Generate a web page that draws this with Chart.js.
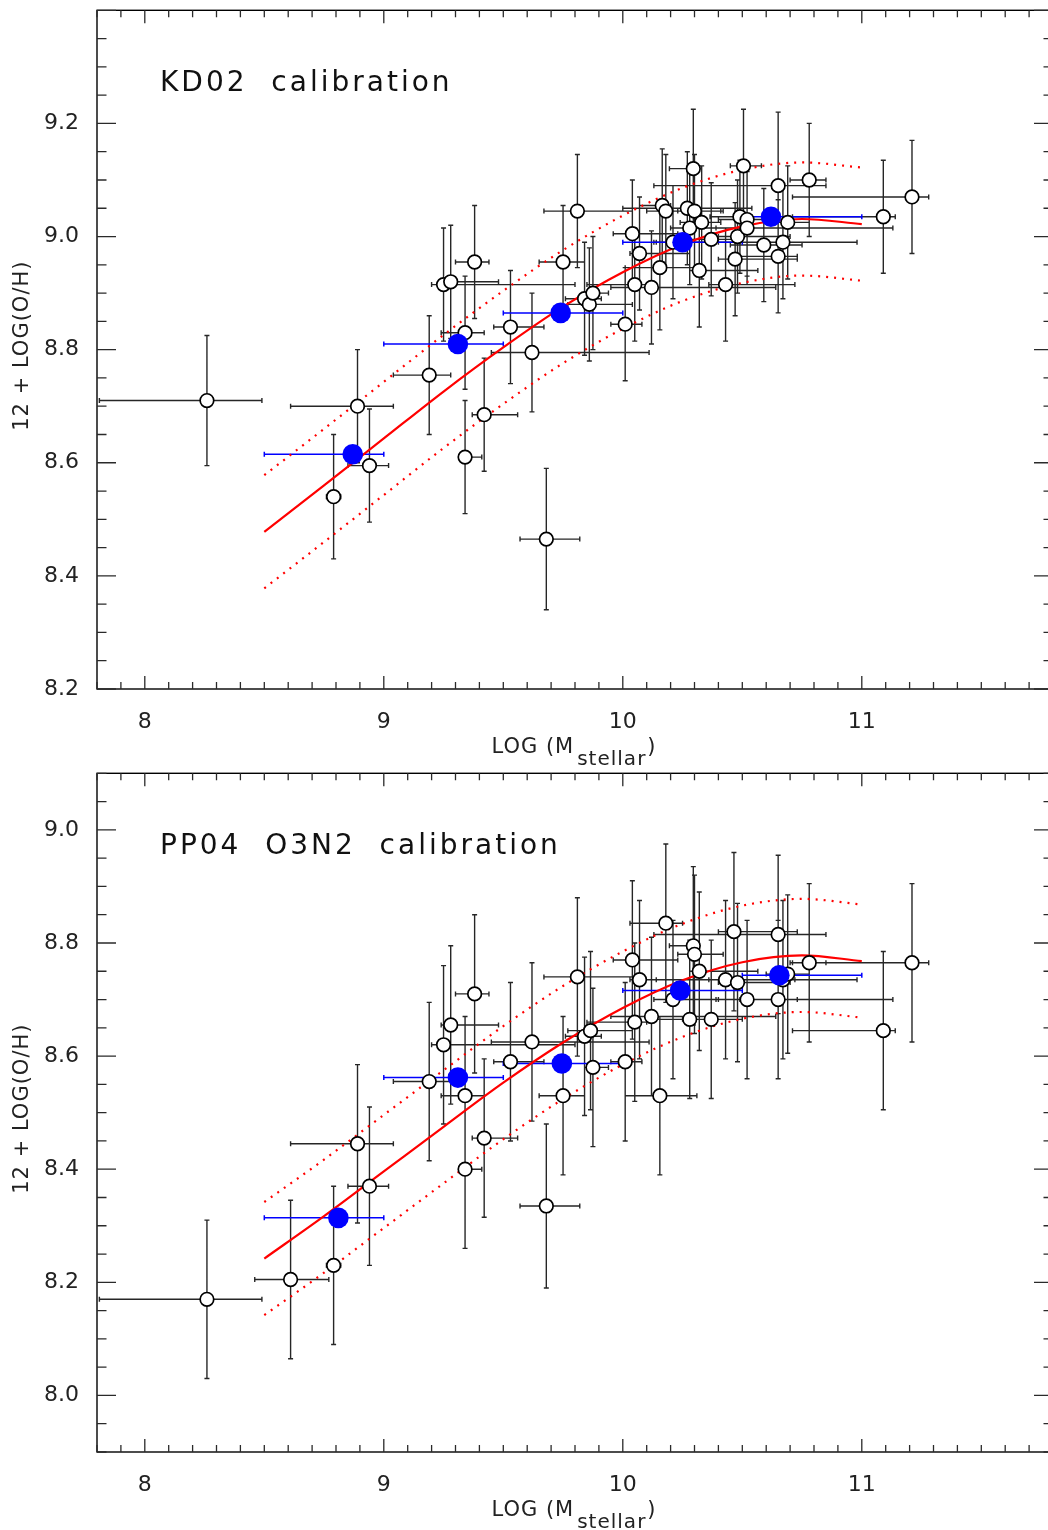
<!DOCTYPE html>
<html><head><meta charset="utf-8">
<script src="https://cdn.jsdelivr.net/npm/chart.js@4.4.1/dist/chart.umd.min.js"></script>
<style>
html,body{margin:0;padding:0;overflow:hidden;background:#fff;width:1048px;height:1530px;}
.wrap{position:absolute;left:0;width:1060px;height:765px;}
#w1{top:0;} #w2{top:763px;}
canvas{display:block;width:1060px;height:765px;}
</style></head><body>
<div class="wrap" id="w1"><canvas id="c1" width="1060" height="765"></canvas></div>
<div class="wrap" id="w2"><canvas id="c2" width="1060" height="765"></canvas></div>
<script>
// ---------------- DATA ----------------
const xTicks = [8, 9, 10, 11];
const kdYTicks = [8.2, 8.4, 8.6, 8.8, 9.0, 9.2];
const ppYTicks = [8.0, 8.2, 8.4, 8.6, 8.8, 9.0];
const binEdges = [8.5, 9.0, 9.5, 10.0, 10.5, 11.0];

// KD02 panel: individual galaxies
const kdMass   = [8.26,8.79,8.89,8.94,9.19,9.25,9.28,9.34,9.34,9.38,9.42,9.53,9.62,9.68,9.75,9.81,9.84,9.86,9.875,10.01,10.04,10.05,10.07,10.12,10.155,10.165,10.18,10.21,10.27,10.28,10.295,10.30,10.32,10.33,10.37,10.43,10.47,10.48,10.49,10.505,10.52,10.52,10.59,10.65,10.65,10.67,10.69,10.78,11.09,11.21];
const kdMassLo = [7.81,8.76,8.61,8.85,9.04,9.20,9.24,9.24,9.32,9.30,9.37,9.46,9.45,9.57,9.65,9.67,9.76,9.77,9.84,9.95,9.96,9.85,10.03,9.95,10.01,10.07,10.10,10.13,10.00,10.20,10.195,10.23,10.28,10.24,10.25,10.36,10.40,10.40,10.365,10.45,10.40,10.39,10.45,10.13,10.49,10.14,10.60,10.70,10.71,10.71];
const kdMassHi = [8.49,8.82,9.04,9.02,9.28,9.80,9.48,9.42,9.41,9.44,9.56,9.67,10.11,9.82,9.84,10.04,9.91,10.04,9.94,10.08,10.23,10.10,10.28,10.64,10.30,10.20,10.41,10.40,10.54,10.50,10.32,10.42,10.565,10.41,10.50,10.72,10.73,10.70,10.54,10.58,10.60,11.13,10.75,10.85,10.73,10.98,10.78,10.85,11.14,11.28];
const kdOH     = [8.71,8.54,8.70,8.595,8.755,8.915,8.92,8.83,8.61,8.955,8.685,8.84,8.795,8.465,8.955,9.045,8.89,8.88,8.90,8.845,9.005,8.915,8.97,8.91,8.945,9.055,9.045,8.99,9.05,9.015,9.12,9.045,8.94,9.025,8.995,8.915,8.96,9.00,9.035,9.125,9.03,9.015,8.985,9.09,8.965,8.99,9.025,9.10,9.035,9.07];
const kdOHErr  = [0.115,0.11,0.10,0.10,0.105,0.10,0.10,0.10,0.10,0.10,0.10,0.10,0.105,0.125,0.10,0.10,0.10,0.10,0.10,0.10,0.095,0.10,0.10,0.10,0.11,0.10,0.10,0.10,0.10,0.10,0.105,0.10,0.10,0.10,0.10,0.10,0.10,0.10,0.10,0.10,0.10,0.10,0.10,0.13,0.10,0.10,0.10,0.10,0.10,0.10];
// KD02 panel: binned medians (blue)
const kdBinMass = [8.87, 9.31, 9.74, 10.25, 10.62];
const kdBinOH   = [8.615, 8.81, 8.865, 8.99, 9.035];
// KD02 panel: fit curve (solid) and scatter envelope (dotted)
const fitMass  = [8.5, 8.75, 9.0, 9.25, 9.5, 9.75, 10.0, 10.25, 10.5, 10.75, 11.0];
const kdFit    = [8.478, 8.560, 8.643, 8.726, 8.804, 8.876, 8.937, 8.986, 9.018, 9.031, 9.022];
const kdFitUp  = [8.578, 8.660, 8.743, 8.826, 8.904, 8.976, 9.037, 9.086, 9.118, 9.131, 9.122];
const kdFitLow = [8.378, 8.460, 8.543, 8.626, 8.704, 8.776, 8.837, 8.886, 8.918, 8.931, 8.922];

// PP04 O3N2 panel: individual galaxies
const ppMass   = [8.26,8.61,8.79,8.89,8.94,9.19,9.25,9.28,9.34,9.34,9.38,9.42,9.53,9.62,9.68,9.75,9.81,9.84,9.865,9.875,10.01,10.04,10.05,10.07,10.12,10.155,10.18,10.21,10.28,10.295,10.30,10.32,10.37,10.43,10.465,10.48,10.52,10.65,10.65,10.67,10.69,10.78,11.09,11.21];
const ppMassLo = [7.81,8.46,8.76,8.61,8.85,9.04,9.20,9.24,9.24,9.32,9.30,9.37,9.46,9.45,9.57,9.65,9.67,9.76,9.77,9.84,9.95,9.96,9.85,10.03,9.95,10.01,10.03,10.13,10.11,10.195,10.23,10.28,10.25,10.36,10.40,10.40,10.39,10.13,10.49,10.14,10.60,10.70,10.71,10.71];
const ppMassHi = [8.49,8.77,8.82,9.04,9.02,9.28,9.80,9.48,9.42,9.41,9.44,9.56,9.67,10.11,9.82,9.84,10.04,9.91,10.04,9.94,10.08,10.23,10.10,10.28,10.64,10.31,10.25,10.40,10.39,10.32,10.42,10.565,10.50,10.72,10.73,10.70,11.13,10.85,10.73,10.98,10.78,10.85,11.14,11.28];
const ppOH     = [8.17,8.205,8.23,8.445,8.37,8.555,8.62,8.655,8.53,8.40,8.71,8.455,8.59,8.625,8.335,8.53,8.74,8.635,8.645,8.58,8.59,8.77,8.66,8.735,8.67,8.53,8.835,8.70,8.665,8.795,8.78,8.75,8.665,8.735,8.82,8.73,8.70,8.815,8.70,8.735,8.745,8.765,8.645,8.765];
const ppOHErr  = [0.14,0.14,0.14,0.14,0.14,0.14,0.14,0.14,0.14,0.14,0.14,0.14,0.14,0.14,0.145,0.14,0.14,0.14,0.14,0.14,0.14,0.14,0.14,0.14,0.14,0.14,0.14,0.14,0.14,0.14,0.14,0.14,0.14,0.14,0.14,0.14,0.14,0.14,0.14,0.14,0.14,0.14,0.14,0.14];
// PP04 panel: binned medians (blue)
const ppBinMass = [8.81, 9.31, 9.745, 10.24, 10.655];
const ppBinOH   = [8.314, 8.562, 8.587, 8.716, 8.743];
// PP04 panel: fit curve and envelope
const ppFit    = [8.242, 8.317, 8.396, 8.475, 8.553, 8.624, 8.685, 8.734, 8.766, 8.778, 8.768];
const ppFitUp  = [8.342, 8.417, 8.496, 8.575, 8.653, 8.724, 8.785, 8.834, 8.866, 8.878, 8.868];
const ppFitLow = [8.142, 8.217, 8.296, 8.375, 8.453, 8.524, 8.585, 8.634, 8.666, 8.678, 8.668];

// ---------------- DRAWING ----------------
const FONT = '"DejaVu Sans", "Liberation Sans", sans-serif';
const TXT = '#222';
const PLOT_RIGHT = 1053;
const pts = (xs, ys) => xs.map((v, i) => ({x: v, y: ys[i]}));
const noPad = s => { s.paddingTop = 0; s.paddingBottom = 0; s.paddingLeft = 0; s.paddingRight = 0; };

function makePanel(id, P) {
  const areaPlugin = {
    id: 'area',
    afterLayout(chart) {
      const a = chart.chartArea, x = chart.scales.x;
      a.right = PLOT_RIGHT; a.width = a.right - a.left;
      x.right = PLOT_RIGHT; x.width = x.right - x.left;
      x.configure();
    }
  };
  const errPlugin = {
    id: 'errbars',
    beforeDatasetsDraw(chart) {
      const {ctx, chartArea: a, scales: {x, y}} = chart;
      ctx.save();
      ctx.beginPath(); ctx.rect(a.left, a.top, a.right - a.left, a.bottom - a.top); ctx.clip();
      ctx.strokeStyle = '#262626'; ctx.lineWidth = 1.4;
      const cap = 2.5;
      ctx.beginPath();
      for (let i = 0; i < P.mass.length; i++) {
        const px = x.getPixelForValue(P.mass[i]), py = y.getPixelForValue(P.oh[i]);
        const x0 = x.getPixelForValue(P.massLo[i]), x1 = x.getPixelForValue(P.massHi[i]);
        const y0 = y.getPixelForValue(P.oh[i] - P.ohErr[i]), y1 = y.getPixelForValue(P.oh[i] + P.ohErr[i]);
        ctx.moveTo(x0, py); ctx.lineTo(x1, py);
        ctx.moveTo(x0, py - cap); ctx.lineTo(x0, py + cap);
        ctx.moveTo(x1, py - cap); ctx.lineTo(x1, py + cap);
        ctx.moveTo(px, y0); ctx.lineTo(px, y1);
        ctx.moveTo(px - cap, y0); ctx.lineTo(px + cap, y0);
        ctx.moveTo(px - cap, y1); ctx.lineTo(px + cap, y1);
      }
      ctx.stroke();
      ctx.strokeStyle = '#0000ff'; ctx.lineWidth = 1.5;
      ctx.beginPath();
      for (let i = 0; i < P.binMass.length; i++) {
        const py = y.getPixelForValue(P.binOH[i]);
        const x0 = x.getPixelForValue(binEdges[i]), x1 = x.getPixelForValue(binEdges[i + 1]);
        ctx.moveTo(x0, py); ctx.lineTo(x1, py);
        ctx.moveTo(x0, py - cap); ctx.lineTo(x0, py + cap);
        ctx.moveTo(x1, py - cap); ctx.lineTo(x1, py + cap);
      }
      ctx.stroke();
      ctx.restore();
    }
  };
  const framePlugin = {
    id: 'frame',
    afterDraw(chart) {
      const {ctx, chartArea: a, scales: {x, y}} = chart;
      ctx.save();
      ctx.strokeStyle = '#000'; ctx.lineWidth = 1.4;
      ctx.strokeRect(a.left, a.top, a.right - a.left, a.bottom - a.top);
      ctx.strokeStyle = '#2a2a2a'; ctx.lineWidth = 1.3;
      ctx.beginPath();
      const xmin = x.min, xmax = x.max;
      const nx = Math.round((xmax - xmin) / 0.1);
      for (let k = 0; k <= nx; k++) {
        const v = xmin + k * 0.1;
        const px = x.getPixelForValue(v);
        const major = Math.abs(v - Math.round(v)) < 1e-6;
        const L = major ? 13 : 7;
        ctx.moveTo(px, a.bottom); ctx.lineTo(px, a.bottom - L);
        ctx.moveTo(px, a.top); ctx.lineTo(px, a.top + L);
      }
      const ny = Math.round((y.max - y.min) / 0.05);
      for (let k = 0; k <= ny; k++) {
        const v = y.min + k * 0.05;
        const py = y.getPixelForValue(v);
        const major = Math.abs(v / 0.2 - Math.round(v / 0.2)) < 1e-6;
        const L = major ? 19 : 9.5;
        ctx.moveTo(a.left, py); ctx.lineTo(a.left + L, py);
        ctx.moveTo(a.right, py); ctx.lineTo(a.right - L, py);
      }
      ctx.stroke();
      // panel title
      ctx.fillStyle = '#111';
      ctx.textBaseline = 'alphabetic'; ctx.textAlign = 'left';
      ctx.font = '28px ' + FONT;
      try { ctx.letterSpacing = '3px'; } catch (e) {}
      ctx.fillText(P.title, 160, 91);
      try { ctx.letterSpacing = '0px'; } catch (e) {}
      // y-axis title
      ctx.fillStyle = TXT;
      ctx.save();
      ctx.font = '21px ' + FONT;
      try { ctx.letterSpacing = '1px'; } catch (e) {}
      ctx.translate(23, (a.top + a.bottom) / 2 - 4);
      ctx.rotate(-Math.PI / 2);
      ctx.textAlign = 'center'; ctx.textBaseline = 'middle';
      ctx.fillText('12 + LOG(O/H)', 0, 0);
      ctx.restore();
      // x-axis title with subscript
      ctx.font = '21px ' + FONT;
      try { ctx.letterSpacing = '1px'; } catch (e) {}
      const t1 = 'LOG (M', t3 = ')';
      const w1 = ctx.measureText(t1).width, w3 = ctx.measureText(t3).width;
      ctx.font = '20px ' + FONT;
      const t2 = 'stellar';
      const w2 = ctx.measureText(t2).width;
      const cx = 574;
      let sx = cx - (w1 + w2 + w3 + 4) / 2;
      const base = a.bottom + 64;
      ctx.font = '21px ' + FONT;
      ctx.fillText(t1, sx, base);
      ctx.font = '20px ' + FONT;
      ctx.fillText(t2, sx + w1 + 3, base + 12);
      ctx.font = '21px ' + FONT;
      ctx.fillText(t3, sx + w1 + w2 + 4, base);
      ctx.restore();
    }
  };

  return new Chart(document.getElementById(id), {
    type: 'scatter',
    data: {
      datasets: [
        {label: 'bins', data: pts(P.binMass, P.binOH), pointRadius: 10.3, pointHoverRadius: 10.3,
         backgroundColor: '#0000ff', borderColor: '#0000ff', borderWidth: 0, order: 0},
        {label: 'galaxies', data: pts(P.mass, P.oh), pointRadius: 6.8, pointHoverRadius: 6.8,
         backgroundColor: '#ffffff', borderColor: '#000000', borderWidth: 1.7, order: 1},
        {label: 'fit', data: pts(fitMass, P.fit), showLine: true, pointRadius: 0, borderColor: '#ff0000',
         borderWidth: 2.2, cubicInterpolationMode: 'monotone', order: 2},
        {label: 'fit+', data: pts(fitMass, P.fitUp), showLine: true, pointRadius: 0, borderColor: '#ff0000',
         borderWidth: 2.2, borderDash: [2, 6], cubicInterpolationMode: 'monotone', order: 3},
        {label: 'fit-', data: pts(fitMass, P.fitLow), showLine: true, pointRadius: 0, borderColor: '#ff0000',
         borderWidth: 2.2, borderDash: [2, 6], cubicInterpolationMode: 'monotone', order: 4}
      ]
    },
    options: {
      responsive: false, maintainAspectRatio: false, animation: false, devicePixelRatio: 1, events: [],
      layout: {padding: {left: 0, right: 1, top: 9, bottom: 0}},
      plugins: {legend: {display: false}, tooltip: {enabled: false}},
      scales: {
        x: {
          type: 'linear', min: 7.8, max: 11.8,
          grid: {display: false}, border: {display: false},
          afterBuildTicks: s => { s.ticks = xTicks.map(v => ({value: v})); },
          afterFit: s => { s.height = 76; noPad(s); },
          ticks: {font: {family: FONT, size: 22}, color: TXT, padding: 12, autoSkip: false, maxRotation: 0,
                  callback: v => String(v)}
        },
        y: {
          type: 'linear', min: P.yMin, max: P.yMax,
          grid: {display: false}, border: {display: false},
          afterBuildTicks: s => { s.ticks = P.yTicks.map(v => ({value: v})); },
          afterFit: s => { s.width = 97; noPad(s); },
          ticks: {font: {family: FONT, size: 22}, color: TXT, padding: 10, autoSkip: false,
                  callback: v => Number(v).toFixed(1)}
        }
      }
    },
    plugins: [areaPlugin, errPlugin, framePlugin]
  });
}

makePanel('c1', {
  title: 'KD02  calibration', yMin: 8.2, yMax: 9.4, yTicks: kdYTicks,
  mass: kdMass, massLo: kdMassLo, massHi: kdMassHi, oh: kdOH, ohErr: kdOHErr,
  binMass: kdBinMass, binOH: kdBinOH, fit: kdFit, fitUp: kdFitUp, fitLow: kdFitLow
});
makePanel('c2', {
  title: 'PP04  O3N2  calibration', yMin: 7.9, yMax: 9.1, yTicks: ppYTicks,
  mass: ppMass, massLo: ppMassLo, massHi: ppMassHi, oh: ppOH, ohErr: ppOHErr,
  binMass: ppBinMass, binOH: ppBinOH, fit: ppFit, fitUp: ppFitUp, fitLow: ppFitLow
});
</script>
</body></html>
